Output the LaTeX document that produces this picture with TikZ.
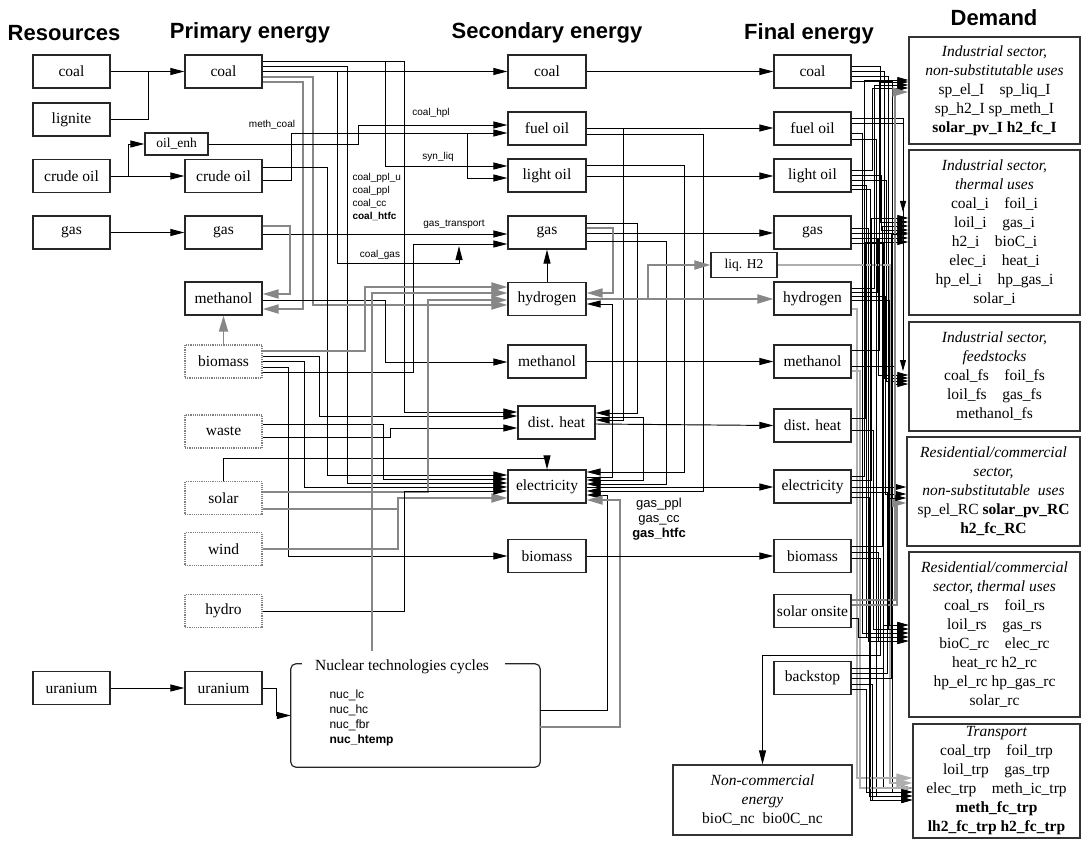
\documentclass[tikz,border=0pt]{standalone}
\usepackage{fontspec}
\setmainfont{Liberation Serif}
\setsansfont{Liberation Sans}
\usetikzlibrary{arrows.meta}
\definecolor{gln}{RGB}{135,135,135}
\definecolor{lgln}{RGB}{175,175,175}
\newcommand\bxf{\fontsize{15.5}{19}\selectfont}
\newcommand\smf{\fontsize{13.5}{16}\selectfont}
\newcommand\hdf{\sffamily\bfseries\fontsize{22}{24}\selectfont}
\newcommand\lbf{\sffamily\fontsize{10}{13.3}\selectfont}
\begin{document}
\begin{tikzpicture}[x=1pt,y=-1pt,
 box/.style={draw=black!85,line width=1.2pt,minimum width=77pt,minimum height=33pt,inner sep=0pt,font=\bxf},
 dbox/.style={box,draw=gray,densely dotted},
 dem/.style={draw=black!80,line width=1.4pt,inner sep=0pt,align=center,font=\bxf},
 hdr/.style={font=\hdf},
 lbl/.style={font=\lbf},
 bl/.style={line width=0.95pt,black},
 bb/.style={line width=0.8pt,black},
 gr/.style={line width=1.9pt,gln},
 lg/.style={line width=1.1pt,lgln},
 tipa/.style={-{Triangle[length=14pt,width=7pt]}},
 tipg/.style={-{Triangle[length=16pt,width=9pt]}},
 tips/.style={-{Triangle[length=11pt,width=6pt]}},
]
\useasboundingbox (0,0) rectangle (1083,850);
\fill[white] (0,0) rectangle (1083,850);

% headers
\node[hdr] (hres) at (64,33) {Resources};
\node[hdr] (hpri) at (250,33) {Primary energy};
\node[hdr] (hsec) at (547,33) {Secondary energy};
\node[hdr] (hfin) at (809,34) {Final energy};
\node[hdr] (hdem) at (994,18) {Demand};

% resources
\node[box] (rcoal) at (71.5,71.5) {coal};
\node[box] (rlig) at (71.5,119.5) {lignite};
\node[box] (rcrude) at (71.5,176) {crude oil};
\node[box] (rgas) at (71.5,232.5) {gas};
\node[box] (rur) at (71.5,688) {uranium};

% primary
\node[box] (pcoal) at (223.5,71.5) {coal};
\node[box,minimum width=63pt,minimum height=22pt,font=\smf] (penh) at (176.5,144) {oil\_enh};
\node[box] (pcrude) at (223.5,176) {crude oil};
\node[box] (pgas) at (223.5,232.5) {gas};
\node[box] (pmeth) at (223.5,298.5) {methanol};
\node[dbox] (pbio) at (223.5,361.5) {biomass};
\node[dbox] (pwaste) at (223.5,431.5) {waste};
\node[dbox] (psolar) at (223.5,498) {solar};
\node[dbox] (pwind) at (223.5,549) {wind};
\node[dbox] (phydro) at (223.5,611) {hydro};
\node[box] (pur) at (223.5,688) {uranium};

% secondary
\node[box,minimum width=78pt] (scoal) at (547,71.5) {coal};
\node[box,minimum width=78pt] (sfuel) at (547,128.5) {fuel oil};
\node[box,minimum width=78pt] (slight) at (547,175.5) {light oil};
\node[box,minimum width=78pt] (sgas) at (547,232.5) {gas};
\node[box,minimum width=78pt] (shyd) at (547,299) {hydrogen};
\node[box,minimum width=78pt] (smeth) at (547,361.5) {methanol};
\node[box] (sheat) at (556.5,422.5) {dist. heat};
\node[box,minimum width=78pt] (selec) at (547,486.5) {electricity};
\node[box,minimum width=78pt] (sbio) at (547,556) {biomass};

% final
\node[box] (fcoal) at (812.5,71.5) {coal};
\node[box] (ffuel) at (812.5,128.5) {fuel oil};
\node[box] (flight) at (812.5,175.5) {light oil};
\node[box] (fgas) at (812.5,232.5) {gas};
\node[box,minimum width=66pt,minimum height=25pt,font=\smf] (fliq) at (744,265) {liq. H2};
\node[box] (fhyd) at (812.5,298.5) {hydrogen};
\node[box] (fmeth) at (812.5,361.5) {methanol};
\node[box] (fheat) at (812.5,425.5) {dist. heat};
\node[box] (felec) at (812.5,486.5) {electricity};
\node[box] (fbio) at (812.5,556) {biomass};
\node[box] (fsolar) at (812.5,611) {solar onsite};
\node[box] (fback) at (812.5,678) {backstop};

% demand
\node[dem,minimum width=171pt,minimum height=107pt] (d1) at (994.5,90.5)
 {\textit{Industrial sector,}\\ \textit{non-substitutable uses}\\ sp\_el\_I\quad sp\_liq\_I\\ sp\_h2\_I sp\_meth\_I\\ \textbf{solar\_pv\_I h2\_fc\_I}};
\node[dem,minimum width=171pt,minimum height=165pt] (d2) at (994.5,232.5)
 {\textit{Industrial sector,}\\ \textit{thermal uses}\\ coal\_i\quad foil\_i\\ loil\_i\quad gas\_i\\ h2\_i\quad bioC\_i\\ elec\_i\quad heat\_i\\ hp\_el\_i\quad hp\_gas\_i\\ solar\_i};
\node[dem,minimum width=171pt,minimum height=109pt] (d3) at (994.5,376.5)
 {\textit{Industrial sector,}\\ \textit{feedstocks}\\ coal\_fs\quad foil\_fs\\ loil\_fs\quad gas\_fs\\ methanol\_fs};
\node[dem,minimum width=173pt,minimum height=109pt] (d4) at (993.5,491.5)
 {\textit{Residential/commercial}\\ \textit{sector,}\\ \textit{non-substitutable\ \ uses}\\ sp\_el\_RC \textbf{solar\_pv\_RC}\\ \textbf{h2\_fc\_RC}};
\node[dem,minimum width=171pt,minimum height=165pt] (d5) at (994.5,634.5)
 {\textit{Residential/commercial}\\ \textit{sector, thermal uses}\\ coal\_rs\quad foil\_rs\\ loil\_rs\quad gas\_rs\\ bioC\_rc\quad elec\_rc\\ heat\_rc h2\_rc\\ hp\_el\_rc hp\_gas\_rc\\ solar\_rc};
\node[dem,minimum width=167pt,minimum height=114pt] (d6) at (996.5,781)
 {\textit{Transport}\\ coal\_trp\quad foil\_trp\\ loil\_trp\quad gas\_trp\\ elec\_trp\quad meth\_ic\_trp\\ \textbf{meth\_fc\_trp}\\ \textbf{lh2\_fc\_trp h2\_fc\_trp}};
\node[dem,line width=1.2pt,minimum width=179pt,minimum height=70pt] (ncomm) at (762.5,800)
 {\textit{Non-commercial}\\ \textit{energy}\\ bioC\_nc\ \ bio0C\_nc};

% labels
\node[lbl] (lmc) at (272,125) {meth\_coal};
\node[lbl] (lhpl) at (431,113) {coal\_hpl};
\node[lbl] (lsyn) at (438,157) {syn\_liq};
\node[lbl] (lgt) at (454,224) {gas\_transport};
\node[lbl] (lcg) at (380,255) {coal\_gas};
\node[lbl,align=left,anchor=west] (lcpp) at (349,197) {coal\_ppl\_u\\ coal\_ppl\\ coal\_cc\\ \textbf{coal\_htfc}};
\node[font=\sffamily\fontsize{13}{15}\selectfont,align=center] (lgpp) at (659,519) {gas\_ppl\\ gas\_cc\\ \textbf{gas\_htfc}};

% nuclear
\node[minimum width=249pt,minimum height=103pt,inner sep=0pt] (nuc) at (415.5,715.5) {};
\draw[line width=1.2pt,black!85,rounded corners=5pt] ([xshift=11pt]nuc.north west) -- (nuc.north west) -- (nuc.south west) -- (nuc.south east) -- (nuc.north east) -- ([xshift=-35pt]nuc.north east);
\node[font=\bxf] (nuct) at (402,667) {Nuclear technologies cycles};
\node[font=\sffamily\fontsize{12}{15}\selectfont,align=left,anchor=west] (nucl) at (326,717.5) {nuc\_lc\\ nuc\_hc\\ nuc\_fbr\\ \textbf{nuc\_htemp}};

% ---------- resources -> primary
\draw[bl,tipa] (rcoal.east) -- (pcoal.west);
\draw[bl] (rlig.east) -| (148,71.5);
\draw[bl,tipa] (rcrude.east) -- (pcrude.west);
\draw[bl,tipa] (128,176) |- (penh.west);
\draw[bl,tipa] (rgas.east) -- (pgas.west);
\draw[bl,tipa] (rur.east) -- (pur.west);
\draw[bl,tipa] (pur.east) -- (276,688) |- (nuc.west);

% ---------- primary -> secondary
\draw[bl,tipa] (pcoal.east) -- (scoal.west);
\draw[bl] (pcoal.east |- 0,61) -- (404,61);
\draw[bl,tipa] (404,61) |- (sheat.west |- 0,412);
\draw[bl,tipa] (385,61) |- (slight.west |- 0,166);
\draw[bl,tipa] (pcoal.east |- 0,66.5) -| (347,483) -- (selec.west |- 0,483);
\draw[bl,tipa] (337,71.5) -- (337,263) -- (459,263) -- (459,246);
\draw[gr,tipg] (pcoal.east |- 0,77) -| (313,305) -- (shyd.west |- 0,305);
\draw[gr,tipg] (pcoal.east |- 0,82) -| (303,309) -- (pmeth.east |- 0,309);

\draw[bl,tipa] (penh.east) -| (358,125) -- (sfuel.west |- 0,125);
\draw[bl,tipa] (pcrude.east |- 0,180) -| (291,133) -- (sfuel.west |- 0,133);
\draw[bl,tipa] (467,133) |- (slight.west |- 0,178);
\draw[bl,tipa] (pcrude.east |- 0,167) -| (327,475) -- (selec.west |- 0,475);

\draw[bl,tipa] (pgas.east |- 0,234) -- (sgas.west |- 0,234);
\draw[gr,tipg] (pgas.east |- 0,226) -| (290,294) -- (pmeth.east |- 0,294);

\draw[bl,tipa] (pmeth.east |- 0,300) -| (385,362) -- (smeth.west |- 0,362);
\draw[gr,tipg] (pbio.north) -- (pmeth.south);

\draw[gr,tipg] (pbio.east |- 0,351) -| (365,287) -- (shyd.west |- 0,287);
\draw[bl,tipa] (pbio.east |- 0,356) -| (319,416) -- (sheat.west |- 0,416);
\draw[bl,tipa] (pbio.east |- 0,361) -| (304,487) -- (selec.west |- 0,487);
\draw[bl,tipa] (pbio.east |- 0,367) -| (288,556) -- (sbio.west);
\draw[bl,tipa] (pbio.east |- 0,372) -| (413,244) -- (sgas.west |- 0,244);

\draw[bl,tipa] (pwaste.east |- 0,424) -| (383,479) -- (selec.west |- 0,479);
\draw[bl,tipa] (pwaste.east |- 0,437) -| (390,428) -- (sheat.west |- 0,428);

\draw[bl,tipa] (psolar.north) |- (547,458) -- (selec.north);
\draw[gr,tipg] (psolar.east |- 0,492) -| (428,300) -- (shyd.west |- 0,300);
\draw[gr,tipg] (psolar.east |- 0,509) -| (398,498) -- (selec.west |- 0,498);
\draw[gr] (pwind.east) -| (398,509);
\draw[bl,tipa] (phydro.east) -| (404,491) -- (selec.west |- 0,491);

\draw[gr,tipg] (372,651) |- (shyd.west |- 0,293);
\draw[bl,tipa] (nuc.east |- 0,710) -| (607,495) -- (selec.east |- 0,495);
\draw[gr,tipg] (nuc.east |- 0,727) -| (620,500) -- (selec.east |- 0,500);

% ---------- secondary -> final (and loops)
\draw[bl,tipa] (scoal.east) -- (fcoal.west);
\draw[bl,tipa] (sfuel.east |- 0,128) -- (ffuel.west |- 0,128);
\draw[bl,tipa] (623,128) |- (sheat.east |- 0,420);
\draw[bl,tipa] (sfuel.east |- 0,134) -| (703,491) -- (selec.east |- 0,491);
\draw[bl,tipa] (slight.east |- 0,176) -- (flight.west |- 0,176);
\draw[bl,tipa] (slight.east |- 0,165) -| (684,472) -- (selec.east |- 0,472);
\draw[bl,tipa] (sgas.east |- 0,233) -- (fgas.west |- 0,233);
\draw[bl,tipa] (sgas.east |- 0,223) -| (637,413) -- (sheat.east |- 0,413);
\draw[gr,tipg] (sgas.east |- 0,228) -| (613,293) -- (shyd.east |- 0,293);
\draw[bl,tipa] (sgas.east |- 0,241) -| (666,484) -- (selec.east |- 0,484);
\draw[bl,tipa] (shyd.north) -- (sgas.south);
\draw[bl,tipa] (selec.east |- 0,477) -| (612,304) -- (shyd.east |- 0,304);
\draw[gr,tipg] (shyd.east |- 0,299) -- (fhyd.west |- 0,299);
\draw[gr,tipg] (648,299) |- (fliq.west);
\draw[bl,tipa] (smeth.east) -- (fmeth.west);
\draw[bl,tipa] (sheat.east |- 0,424) -- (fheat.west);
\draw[bl,tipa] (sheat.east |- 0,417) -| (643,480) -- (selec.east |- 0,480);
\draw[bl,tipa] (selec.east |- 0,487) -- (felec.west |- 0,487);
\draw[bl,tipa] (sbio.east) -- (fbio.west);

% ---------- final -> demand
% coal
\draw[bb,tips] (fcoal.east |- 0,66) -| (880,222) -- (d2.west |- 0,222);
\draw[bb,tips] (fcoal.east |- 0,71) -| (884,378) -- (d3.west |- 0,378);
\draw[bb,tips] (fcoal.east |- 0,76) -| (888,629) -- (d5.west |- 0,629);
\draw[bb,tips] (fcoal.east |- 0,81) -| (892,792) -- (d6.west |- 0,792);
% fuel oil
\draw[bb,tips] (ffuel.east |- 0,118) -| (903,212);
\draw[bb,tips] (ffuel.east |- 0,123) -| (903,371);
\draw[bb,tips] (ffuel.east |- 0,133) -| (862,633) -- (d5.west |- 0,633);
\draw[bb,tips] (ffuel.east |- 0,139) -| (876,796) -- (d6.west |- 0,796);
% light oil
\draw[bb,tips] (flight.east |- 0,170) -| (872,88) -- (d1.west |- 0,88);
\draw[bb,tips] (flight.east |- 0,175) -| (881,230) -- (d2.west |- 0,230);
\draw[bb,tips] (flight.east |- 0,180) -| (886,381) -- (d3.west |- 0,381);
\draw[bb,tips] (flight.east |- 0,185) -| (866,637) -- (d5.west |- 0,637);
\draw[bb,tips] (flight.east |- 0,189) -| (870,800) -- (d6.west |- 0,800);
% gas
\draw[bb,tips] (fgas.east |- 0,228) -| (868,641) -- (d5.west |- 0,641);
\draw[bb,tips] (fgas.east |- 0,233) -- (d2.west |- 0,233);
\draw[bb,tips] (fgas.east |- 0,238) -| (878,375) -- (d3.west |- 0,375);
\draw[bb,tips] (fgas.east |- 0,243) -| (883,788) -- (d6.west |- 0,788);
% liquid hydrogen
\draw[lg,tipg] (fliq.east) -| (890,783) -- (d6.west |- 0,783);
% hydrogen
\draw[bb,tips] (fhyd.east |- 0,288) -| (874,85) -- (d1.west |- 0,85);
\draw[bb,tips] (fhyd.east |- 0,292) -| (877,238) -- (d2.west |- 0,238);
\draw[bb,tips] (fhyd.east |- 0,296) -| (885,494) -- (d4.west |- 0,494);
\draw[bb,tips] (fhyd.east |- 0,300) -| (889,625) -- (d5.west |- 0,625);
\draw[lg,tipg] (fhyd.east |- 0,309) -| (857,778) -- (d6.west |- 0,778);
% methanol
\draw[bb,tips] (fmeth.east |- 0,350) -| (879,82) -- (d1.west |- 0,82);
\draw[bb,tips] (fmeth.east |- 0,366) -| (894,384) -- (d3.west |- 0,384);
\draw[lg,tips] (fmeth.east |- 0,371) -| (860,788) -- (d6.west |- 0,788);
% district heat
\draw[bb,tips] (fheat.east |- 0,418) -| (865,242) -- (d2.west |- 0,242);
\draw[bb,tips] (fheat.east |- 0,430) -| (873,629) -- (d5.west |- 0,629);
% electricity
\draw[bb,tips] (felec.east |- 0,476) -| (864,80) -- (d1.west |- 0,80);
\draw[bb,tips] (felec.east |- 0,480) -| (871,218) -- (d2.west |- 0,218);
\draw[bb,tips] (felec.east |- 0,487) -- (d4.west |- 0,487);
\draw[bb,tips] (felec.east |- 0,492) -| (887,633) -- (d5.west |- 0,633);
\draw[bb,tips] (felec.east |- 0,497) -| (869,796) -- (d6.west |- 0,796);
% biomass
\draw[bb,tips] (fbio.east |- 0,546) -| (882,226) -- (d2.west |- 0,226);
\draw[bb,tips] (fbio.east |- 0,552) -| (878,641) -- (d5.west |- 0,641);
\draw[bb,tipa] (fbio.east |- 0,558) -| (880,655) -| (ncomm.north);
% solar onsite
\draw[gr,tipg] (fsolar.east |- 0,600) -| (895,92) -- (d1.west |- 0,92);
\draw[gr,tipg] (fsolar.east |- 0,605) -| (897,503) -- (d4.west |- 0,503);
\draw[bb,tips] (fsolar.east |- 0,618) -| (858,637) -- (d5.west |- 0,637);
% backstop
\draw[bb,tips] (fback.east |- 0,668) -| (883,625) -- (d5.west |- 0,625);
\draw[bb,tips] (fback.east |- 0,673) -| (887,498) -- (d4.west |- 0,498);
\draw[bb,tips] (fback.east |- 0,678) -| (891,234) -- (d2.west |- 0,234);
\draw[bb,tips] (fback.east |- 0,684) -| (872,800) -- (d6.west |- 0,800);
\draw[bb,tips] (fback.east |- 0,689) -| (866,792) -- (d6.west |- 0,792);
\end{tikzpicture}
\end{document}
